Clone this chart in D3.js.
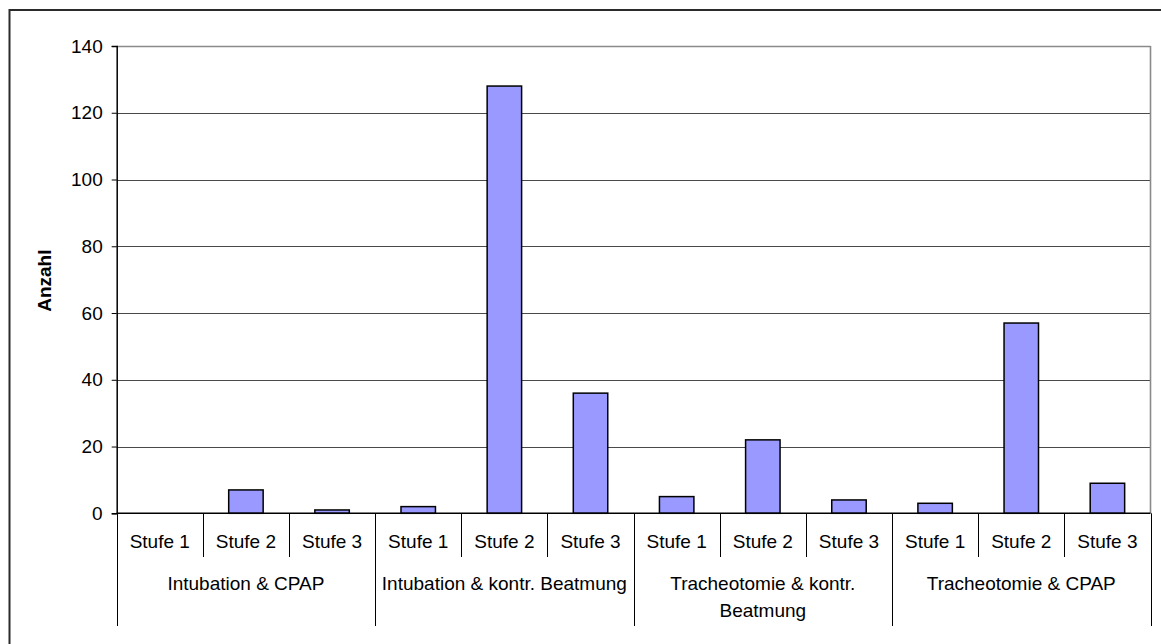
<!DOCTYPE html>
<html>
<head>
<meta charset="utf-8">
<script src="https://cdn.jsdelivr.net/npm/d3@7"></script>
<style>
  html, body { margin: 0; padding: 0; background: #fff; }
  svg { display: block; font-family: "Liberation Sans", Arial, sans-serif; }
</style>
</head>
<body>
<svg id="chart" width="1161" height="644"></svg>
<script>
// Treatment groups and levels shown on the two-tier category axis
const groups = [
  "Intubation & CPAP",
  "Intubation & kontr. Beatmung",
  "Tracheotomie & kontr. Beatmung",
  "Tracheotomie & CPAP"
];
const levels = ["Stufe 1", "Stufe 2", "Stufe 3"];

// Counts per group, one value per level
const intubationCpap = [0, 7, 1];
const intubationKontr = [2, 128, 36];
const tracheoKontr = [5, 22, 4];
const tracheoCpap = [3, 57, 9];

const yTicks = [0, 20, 40, 60, 80, 100, 120, 140];
const yLabel = "Anzahl";

const seriesByGroup = [intubationCpap, intubationKontr, tracheoKontr, tracheoCpap];
const rows = [];
groups.forEach((g, gi) => {
  levels.forEach((lv, li) => {
    rows.push({ key: gi + "|" + li, group: g, level: lv, value: seriesByGroup[gi][li] });
  });
});

const svg = d3.select("#chart");
const plot = { left: 116.7, right: 1150.5, top: 46, bottom: 513.3 };
const axisBottom = 626;
const subDivBottom = 557;

// Outer chart frame (extends past the right and bottom edges)
svg.append("rect")
  .attr("x", 9.5).attr("y", 10)
  .attr("width", 1300).attr("height", 800)
  .attr("fill", "none").attr("stroke", "#2b2b2b").attr("stroke-width", 2);

const y = d3.scaleLinear().domain([0, 140]).range([plot.bottom, plot.top]);

// Slot scale (one slot per level within group) and bar scale
const slot = d3.scaleBand().domain(rows.map(d => d.key))
  .range([plot.left, plot.right]).padding(0);
const bar = d3.scaleBand().domain(rows.map(d => d.key))
  .range([plot.left, plot.right]).paddingInner(0.6).paddingOuter(0.3);

// Horizontal gridlines
svg.append("g").selectAll("line")
  .data(yTicks.filter(t => t > 0))
  .join("line")
  .attr("x1", plot.left).attr("x2", plot.right)
  .attr("y1", d => Math.round(y(d)) + 0.5).attr("y2", d => Math.round(y(d)) + 0.5)
  .attr("stroke", d => d === 140 ? "#8a8a8a" : "#4a4a4a")
  .attr("stroke-width", d => d === 140 ? 1.6 : 1);

// Plot area right border
svg.append("line")
  .attr("x1", plot.right).attr("x2", plot.right)
  .attr("y1", plot.top).attr("y2", plot.bottom)
  .attr("stroke", "#8a8a8a").attr("stroke-width", 1.6);

// Bars
svg.append("g").selectAll("rect")
  .data(rows.filter(d => d.value > 0))
  .join("rect")
  .attr("x", d => bar(d.key))
  .attr("width", bar.bandwidth())
  .attr("y", d => y(d.value))
  .attr("height", d => y(0) - y(d.value))
  .attr("fill", "#9999ff")
  .attr("stroke", "#000")
  .attr("stroke-width", 1.5);

// Y axis
const yAxis = d3.axisLeft(y).tickValues(yTicks).tickSize(5).tickPadding(9).tickFormat(d3.format("d"));
const yg = svg.append("g")
  .attr("transform", `translate(${plot.left},0)`)
  .call(yAxis);
yg.select(".domain").attr("stroke", "#000").attr("stroke-width", 1.5);
yg.selectAll(".tick line").attr("stroke", "#000");
yg.selectAll(".tick text")
  .attr("font-family", "Liberation Sans, Arial, sans-serif")
  .attr("font-size", 19).attr("fill", "#000");

// Y axis title
svg.append("text")
  .attr("transform", `translate(51,${(plot.top + plot.bottom) / 2 + 1}) rotate(-90)`)
  .attr("text-anchor", "middle")
  .attr("font-size", 19).attr("font-weight", "bold").attr("fill", "#000")
  .text(yLabel);

// Category axis baseline
svg.append("line")
  .attr("x1", plot.left).attr("x2", plot.right)
  .attr("y1", y(0)).attr("y2", y(0))
  .attr("stroke", "#000").attr("stroke-width", 1.5);

// Dividers between levels (short) and between groups (long)
const boundaries = d3.range(rows.length + 1);
svg.append("g").selectAll("line")
  .data(boundaries)
  .join("line")
  .attr("x1", i => Math.round(plot.left + i * slot.step()) + 0.5)
  .attr("x2", i => Math.round(plot.left + i * slot.step()) + 0.5)
  .attr("y1", y(0))
  .attr("y2", i => (i % levels.length === 0) ? axisBottom : subDivBottom)
  .attr("stroke", "#000").attr("stroke-width", 1);

// Level labels
svg.append("g").selectAll("text")
  .data(rows)
  .join("text")
  .attr("x", d => slot(d.key) + slot.bandwidth() / 2)
  .attr("y", 547.5)
  .attr("text-anchor", "middle")
  .attr("font-size", 19).attr("fill", "#000")
  .text(d => d.level);

// Group labels, wrapped to the group's width
const groupWidth = slot.step() * levels.length;
const gLabels = svg.append("g").selectAll("text")
  .data(groups)
  .join("text")
  .attr("x", (g, gi) => plot.left + (gi + 0.5) * groupWidth)
  .attr("y", 589.5)
  .attr("text-anchor", "middle")
  .attr("font-size", 19).attr("fill", "#000");

gLabels.each(function (g) {
  const t = d3.select(this);
  const words = g.split(" ");
  const x = t.attr("x");
  let line = [];
  let lineNo = 0;
  let tspan = t.append("tspan").attr("x", x).attr("dy", 0);
  words.forEach(w => {
    line.push(w);
    tspan.text(line.join(" "));
    if (tspan.node().getComputedTextLength() > groupWidth - 8 && line.length > 1) {
      line.pop();
      tspan.text(line.join(" "));
      line = [w];
      lineNo++;
      tspan = t.append("tspan").attr("x", x).attr("dy", 27).text(w);
    }
  });
});
</script>
</body>
</html>
